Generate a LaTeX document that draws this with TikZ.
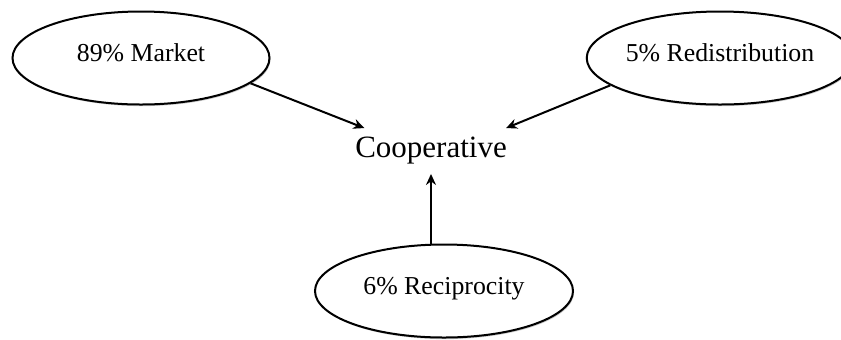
\documentclass[tikz,border=0pt]{standalone}
\usepackage{fontspec}
\setmainfont{Liberation Serif}
\usetikzlibrary{shapes,shadows,arrows.meta}
\tikzstyle{share}=[ellipse,draw,line width=1pt,fill=white,minimum height=46.5pt,inner sep=0pt,text depth=5pt,font=\fontsize{12.9}{15}\selectfont,drop shadow={shadow xshift=0.5pt,shadow yshift=-0.8pt,fill=black!35,opacity=0.6}]
\tikzstyle{centre}=[font=\fontsize{15.5}{18}\selectfont,inner xsep=1pt,inner ysep=4.5pt]
\tikzstyle{edge}=[draw,line width=1pt,-{Stealth[length=5.5pt,width=5pt]}]

\begin{document}
\begin{tikzpicture}[x=0.5pt,y=-0.5pt]
\useasboundingbox (0,0) rectangle (841,339);

\node[centre] (coop) at (431,151) {Cooperative};

% the three shares
\foreach \pos/\name/\w/\txt in {{(141,58)/market/128.5/89\% Market}, {(720,58)/redis/123/5\% Redistribution}, {(444,291)/recip/129/6\% Reciprocity}}
    \node[share,minimum width=\w pt] (\name) at \pos {\txt};

% arrows into the centre
\draw[edge] (market.-13) -- (coop.161);
\draw[edge] (redis.194) -- (coop.17.5);
\draw[edge] (recip.north -| coop.south) -- (coop.south);

\end{tikzpicture}
\end{document}
